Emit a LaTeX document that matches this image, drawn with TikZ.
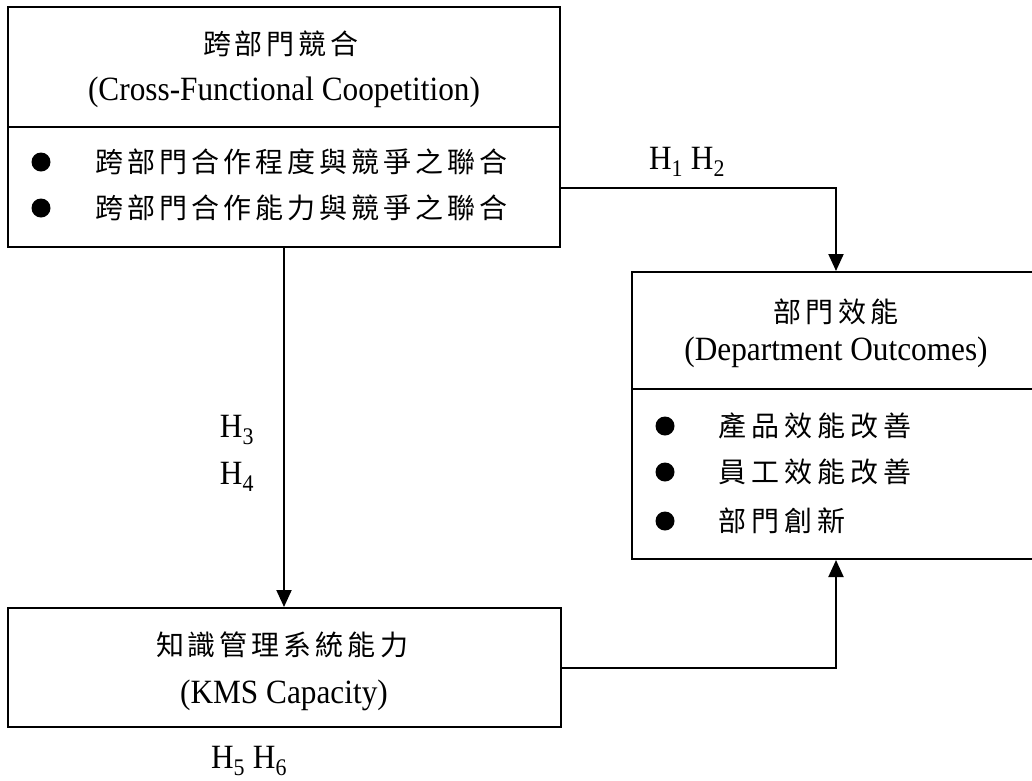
\documentclass[tikz,border=0pt]{standalone}
\usepackage{fontspec}
\setmainfont{Liberation Serif}[FakeStretch=0.92]
\newfontfamily\zhfont{Noto Sans CJK TC}
\usetikzlibrary{arrows.meta,positioning,calc}

% spread the characters of a line by a fixed gap
\makeatletter
\def\zh@stop{zh@stop}
\newcommand\zhspread[2]{\def\zh@gap{\hspace{#1}}\zh@first#2\zh@stop}
\def\zh@first#1{#1\zh@next}
\def\zh@next#1{\ifx#1\zh@stop\else\zh@gap#1\expandafter\zh@next\fi}
\makeatother

\tikzset{
    box/.style={draw, rectangle, line width=2pt, inner sep=0pt},
    divider/.style={line width=2pt},
    conn/.style={line width=2pt, -{Triangle[length=17pt,width=15pt]}},
    entext/.style={inner sep=0pt, font=\fontsize{34}{40}\selectfont},
    zhhead/.style={inner sep=0pt, font=\zhfont\fontsize{28}{32}\selectfont},
    zhline/.style={inner sep=0pt, anchor=west, font=\zhfont\fontsize{28}{32}\selectfont},
    dot/.style={circle, fill=black, inner sep=0pt, minimum size=19pt}
}

\begin{document}
\begin{tikzpicture}[x=1pt, y=-1pt]
    \useasboundingbox (0,0) rectangle (1032,780);
    \clip (0,0) rectangle (1032,780);

    % the three boxes
    \node[box, minimum width=552pt, minimum height=240pt] (coop) at (284,127) {};
    \node[box, minimum width=408pt, minimum height=287pt] (outc) at (836,415.5) {};
    \node[box, minimum width=553pt, minimum height=119pt] (kms) at (284.5,667.5) {};

    \draw[divider] ([yshift=-121pt]coop.north west) -- ([yshift=-121pt]coop.north east);
    \draw[divider] ([yshift=-118pt]outc.north west) -- ([yshift=-118pt]outc.north east);

    % cross-functional coopetition
    \node[zhhead] (coopzh) at (281,44) {\zhspread{4pt}{跨部門競合}};
    \node[entext] (coopen) at (284,92) {(Cross-Functional Coopetition)};
    \node[dot] (cdot1) at (41,162) {};
    \node[zhline] (citem1) at (95,162) {\zhspread{4pt}{跨部門合作程度與競爭之聯合}};
    \node[dot] (cdot2) at (41,208) {};
    \node[zhline] (citem2) at (95,208) {\zhspread{4pt}{跨部門合作能力與競爭之聯合}};

    % department outcomes
    \node[zhhead] (outczh) at (836,312) {\zhspread{4.5pt}{部門效能}};
    \node[entext] (outcen) at (836,352) {(Department Outcomes)};
    \node[dot] (odot1) at (665,426) {};
    \node[zhline] (oitem1) at (718,426) {\zhspread{5pt}{產品效能改善}};
    \node[dot] (odot2) at (665,472) {};
    \node[zhline] (oitem2) at (718,472) {\zhspread{5pt}{員工效能改善}};
    \node[dot] (odot3) at (665,521) {};
    \node[zhline] (oitem3) at (718,521) {\zhspread{5pt}{部門創新}};

    % KMS capacity
    \node[zhhead] (kmszh) at (282,645) {\zhspread{4pt}{知識管理系統能力}};
    \node[entext] (kmsen) at (284,695) {(KMS Capacity)};

    % hypotheses
    \node[entext] (h12) at (687,162) {H\textsubscript{1} H\textsubscript{2}};
    \node[entext] (h3) at (237,430) {H\textsubscript{3}};
    \node[entext] (h4) at (237,477) {H\textsubscript{4}};
    \node[entext] (h56) at (249,761) {H\textsubscript{5} H\textsubscript{6}};

    % connectors
    \draw[conn] ([yshift=-61pt]coop.east) -| (outc.north);
    \draw[conn] (coop.south) -- (coop.south |- kms.north);
    \draw[conn] (kms.east) -| (outc.south);
\end{tikzpicture}
\end{document}
